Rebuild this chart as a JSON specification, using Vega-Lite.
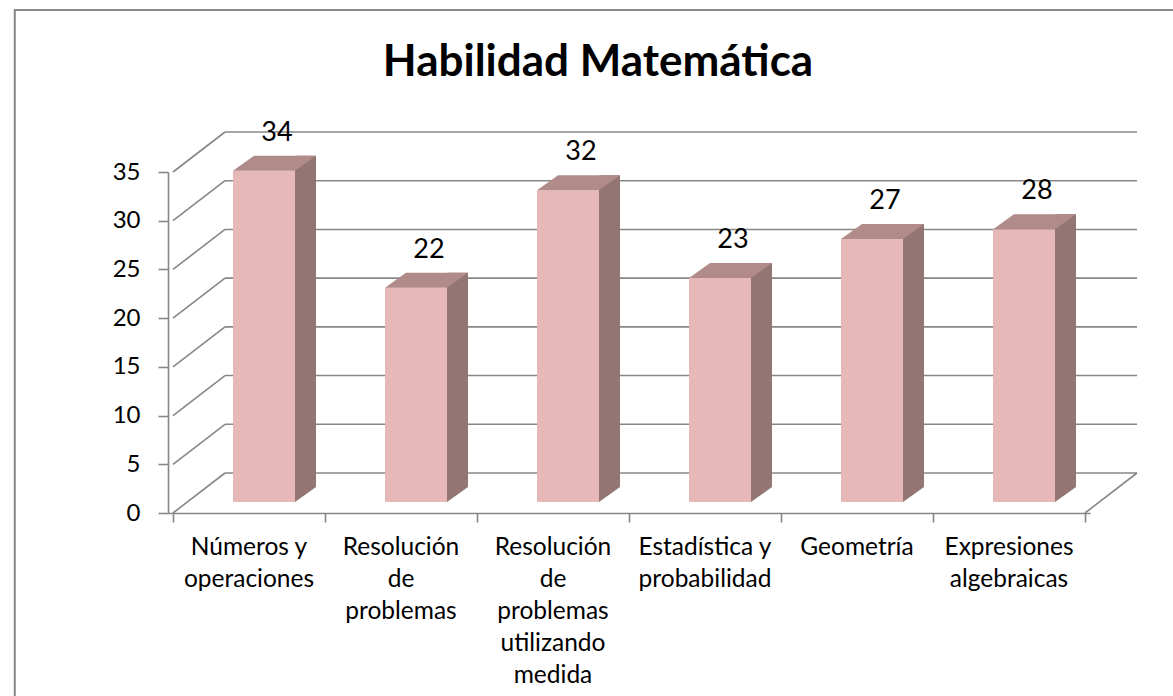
{
  "$schema": "https://vega.github.io/schema/vega-lite/v6.json",
  "width": 922,
  "height": 341,
  "autosize": {"type": "none"},
  "padding": {"left": 168, "top": 172, "right": 83, "bottom": 183},
  "background": "white",
  "config": {"view": {"stroke": null}, "font": "Lato"},
  "title": {"text": "Habilidad Matemática", "font": "Lato", "fontSize": 44, "fontWeight": "bold", "color": "black", "anchor": "middle", "dx": -31, "offset": -111, "baseline": "alphabetic"},
  "datasets": {
    "habilidades": [
      {"categoria": "Números\u00a0y operaciones", "valor": 34},
      {"categoria": "Resolución de problemas", "valor": 22},
      {"categoria": "Resolución de problemas utilizando medida", "valor": 32},
      {"categoria": "Estadística\u00a0y probabilidad", "valor": 23},
      {"categoria": "Geometría", "valor": 27},
      {"categoria": "Expresiones algebraicas", "valor": 28}
    ],
    "grid": [{"v": 0}, {"v": 5}, {"v": 10}, {"v": 15}, {"v": 20}, {"v": 25}, {"v": 30}, {"v": 35}]
  },
  "layer": [
    {
      "data": {"name": "grid"},
      "mark": {"type": "rule", "color": "#878787", "strokeWidth": 1.6, "xOffset": 52, "x2Offset": 52, "yOffset": -40},
      "encoding": {
        "x": {"datum": 0.5, "type": "quantitative", "scale": {"domain": [0.5, 6.5], "nice": false, "zero": false}, "axis": {"values": [0.5, 1.5, 2.5, 3.5, 4.5, 5.5, 6.5], "labels": false, "tickSize": 9, "grid": false, "title": null, "domainColor": "#878787", "tickColor": "#878787", "domainWidth": 1.6, "tickWidth": 1.6}},
        "x2": {"datum": 6.5},
        "y": {"field": "v", "type": "quantitative", "scale": {"domain": [0, 35], "nice": false, "zero": true}, "axis": {"values": [0, 5, 10, 15, 20, 25, 30, 35], "tickSize": 10, "labelPadding": 18, "labelFontSize": 24, "labelFont": "Lato", "labelColor": "black", "grid": false, "title": null, "domainColor": "#878787", "tickColor": "#878787", "domainWidth": 1.6, "tickWidth": 1.6}}
      }
    },
    {
      "data": {"name": "grid"},
      "mark": {"type": "rule", "color": "#878787", "strokeWidth": 1.6, "x2Offset": 52, "y2Offset": -40},
      "encoding": {
        "x": {"datum": 0.5, "type": "quantitative"},
        "x2": {"datum": 0.5},
        "y": {"field": "v", "type": "quantitative"},
        "y2": {"field": "v"}
      }
    },
    {
      "data": {"values": [{}]},
      "mark": {"type": "rule", "color": "#878787", "strokeWidth": 1.6, "x2Offset": 52, "y2Offset": -40},
      "encoding": {
        "x": {"datum": 6.5, "type": "quantitative"},
        "x2": {"datum": 6.5},
        "y": {"datum": 0, "type": "quantitative"},
        "y2": {"datum": 0}
      }
    },
    {
      "data": {"values": [{}]},
      "mark": {"type": "rect", "filled": false, "stroke": "#878787", "strokeWidth": 2},
      "encoding": {
        "x": {"datum": -0.541, "type": "quantitative"},
        "x2": {"datum": 7.216},
        "y": {"datum": 51.63, "type": "quantitative"},
        "y2": {"datum": -21.25}
      }
    },
    {
      "data": {"name": "habilidades"},
      "transform": [{"window": [{"op": "row_number", "as": "k"}]}],
      "layer": [
        {
          "mark": {"type": "bar", "width": 21, "color": "#937674", "xOffset": 56.5, "yOffset": -26, "y2Offset": -26},
          "encoding": {
            "x": {"field": "k", "type": "quantitative"},
            "y": {"field": "valor", "type": "quantitative"},
            "y2": {"datum": 0}
          }
        },
        {
          "mark": {"type": "point", "shape": "M46,-11 L46,-26 L67,-26 Z", "size": 4, "filled": true, "opacity": 1, "color": "#937674", "strokeWidth": 0},
          "encoding": {
            "x": {"field": "k", "type": "quantitative"},
            "y": {"datum": 0, "type": "quantitative"}
          }
        },
        {
          "mark": {"type": "bar", "width": 62, "color": "#E6B8B7", "xOffset": 15, "yOffset": -11, "y2Offset": -11},
          "encoding": {
            "x": {"field": "k", "type": "quantitative"},
            "y": {"field": "valor", "type": "quantitative"},
            "y2": {"datum": 0}
          }
        },
        {
          "mark": {"type": "point", "shape": "M-16,-11 L46,-11 L67,-26 L5,-26 Z", "size": 4, "filled": true, "opacity": 1, "color": "#B08B89", "strokeWidth": 0},
          "encoding": {
            "x": {"field": "k", "type": "quantitative"},
            "y": {"field": "valor", "type": "quantitative"}
          }
        },
        {
          "mark": {"type": "text", "font": "Lato", "fontSize": 27, "color": "black", "dx": 28, "dy": -41, "baseline": "alphabetic", "align": "center"},
          "encoding": {
            "x": {"field": "k", "type": "quantitative"},
            "y": {"field": "valor", "type": "quantitative"},
            "text": {"field": "valor", "type": "quantitative"}
          }
        },
        {
          "mark": {"type": "text", "font": "Lato", "fontSize": 24.5, "color": "black", "dy": 42, "baseline": "alphabetic", "align": "center", "lineBreak": " ", "lineHeight": 32},
          "encoding": {
            "x": {"field": "k", "type": "quantitative"},
            "y": {"datum": 0, "type": "quantitative"},
            "text": {"field": "categoria", "type": "nominal"}
          }
        }
      ]
    }
  ]
}
